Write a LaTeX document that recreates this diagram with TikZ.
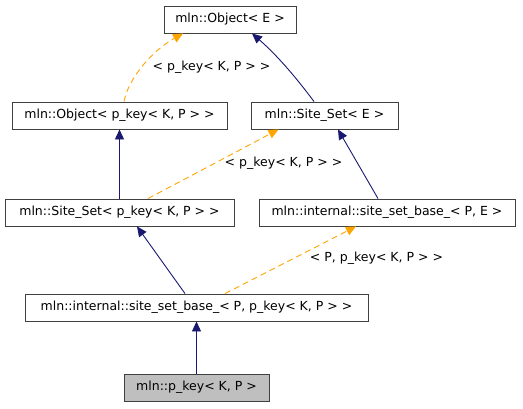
\documentclass[tikz,border=0pt]{standalone}
\usepackage{fontspec}
\setmainfont{DejaVu Sans}
\usepackage{tikz}
\usetikzlibrary{arrows.meta}
\definecolor{edgeblue}{HTML}{191970}
\definecolor{edgeorange}{HTML}{FFA500}
\definecolor{boxline}{HTML}{404040}
\definecolor{boxfill}{HTML}{BFBFBF}
\tikzstyle{every node}=[font=\fontsize{12.5}{14}\selectfont]
\tikzstyle{cls}=[draw=boxline, line width=0.9pt, rectangle, inner sep=0pt, minimum height=27pt]
\tikzstyle{inherit}=[edgeblue, line width=0.9pt, -{Triangle[length=10pt,width=9pt]}]
\tikzstyle{templ}=[edgeorange, line width=0.9pt, dash pattern=on 6pt off 4pt, -{Triangle[length=10pt,width=9pt]}]

\begin{document}
\begin{tikzpicture}[x=1pt, y=-1pt]
        \useasboundingbox (0, 0) rectangle (523, 408);

        \node [cls, minimum width=132pt] (objE) at (230, 19.5) {mln::Object< E >};
        \node [cls, minimum width=215pt] (objP) at (119.5, 115.5) {mln::Object< p\_key< K, P > >};
        \node [cls, minimum width=147pt] (siteE) at (324.5, 115.5) {mln::Site\_Set< E >};
        \node [cls, minimum width=229pt] (siteP) at (119.5, 212.5) {mln::Site\_Set< p\_key< K, P > >};
        \node [cls, minimum width=256pt] (baseE) at (387, 212.5) {mln::internal::site\_set\_base\_< P, E >};
        \node [cls, minimum width=343pt] (baseP) at (196.5, 307.5) {mln::internal::site\_set\_base\_< P, p\_key< K, P > >};
        \node [cls, minimum width=145pt, fill=boxfill] (pkey) at (196.5, 387.5) {mln::p\_key< K, P >};

        \draw [templ] ([xshift=4.5pt]objP.north) .. controls (128, 80) and (150, 52) .. ([xshift=-47pt]objE.south);
        \node (lblObj) at (211.5, 67) {< p\_key< K, P > >};
        \draw [inherit] ([xshift=-10.5pt]siteE.north) .. controls (298, 80) and (278, 56) .. ([xshift=22pt]objE.south);

        \draw [inherit] (siteP.north) -- (objP.south);
        \draw [templ] ([xshift=28.5pt]siteP.north) -- ([xshift=-46pt]siteE.south);
        \node (lblSite) at (283.5, 163) {< p\_key< K, P > >};
        \draw [inherit] ([xshift=-9pt]baseE.north) -- ([xshift=13.5pt]siteE.south);

        \draw [inherit] ([xshift=-11.5pt]baseP.north) -- ([xshift=17.5pt]siteP.south);
        \draw [templ] ([xshift=28.5pt]baseP.north) -- ([xshift=-31pt]baseE.south);
        \node (lblBase) at (376.5, 258) {< P, p\_key< K, P > >};

        \draw [inherit] (pkey.north) -- (baseP.south);
    \end{tikzpicture}
\end{document}
